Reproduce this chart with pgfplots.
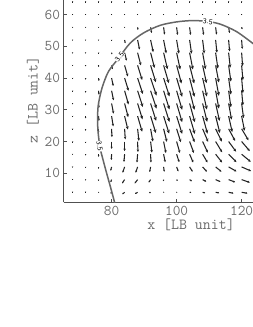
\documentclass[border=0pt]{standalone}
\usepackage{pgfplots}
\pgfplotsset{compat=1.18}
\usepackage{pgfplotstable}
\usetikzlibrary{arrows.meta}
\definecolor{txt}{HTML}{6A6A6A}
\definecolor{spine}{HTML}{505050}
\definecolor{arr}{HTML}{222222}
\definecolor{cont}{HTML}{666666}
\pgfplotstableread{
x y u v
68 64 0 -0.1
72 64 0 -0.1
76 64 0 -0.1
80 64 0 -0.1
84 64 0 -0.1
88 64 0 -0.1
92 64 0 -0.1
96 64 0 -0.1
100 64 0 -0.1
104 64 0 -0.1
108 64 0 -0.1
112 64 0 -0.1
116 64 0 -0.1
120 64 0 -0.1
68 60 0 -0.15
72 60 0 -0.15
76 60 0 -0.15
80 60 0 -0.15
84 60 0 -0.15
88 60 0 -0.15
92 60 0 -0.15
96 60 0 -0.15
100 60 0 -0.15
104 60 0 -0.15
108 60 0 -0.15
112 60 0 -0.15
116 60 0 -0.15
120 60 0 -0.15
68 56 0 -0.2
72 56 0 -0.2
76 56 0 -0.2
80 56 0 -0.2
84 56 0 -0.2
88 56 0.1 -0.8
92 56 0.3 -1.8
96 56 0.3 -2.3
100 56 0.3 -2.4
104 56 0.3 -2.4
108 56 0.3 -2.4
112 56 0.3 -2.3
116 56 0.3 -1.8
120 56 0.2 -0.6
68 52 0 -0.2
72 52 0 -0.2
76 52 0 -0.2
80 52 0 -0.3
84 52 0.2 -1.0
88 52 0.6 -3.0
92 52 0.8 -3.8
96 52 0.8 -4.2
100 52 0.7 -4.3
104 52 0.6 -4.3
108 52 0.5 -4.2
112 52 0.4 -4.0
116 52 0.3 -3.6
120 52 0.2 -2.8
68 48 0 -0.2
72 48 0 -0.2
76 48 0 -0.3
80 48 0.1 -0.5
84 48 0.6 -2.5
88 48 1.0 -4.0
92 48 1.2 -4.8
96 48 1.2 -5.2
100 48 1.1 -5.3
104 48 1.0 -5.3
108 48 0.9 -5.2
112 48 0.7 -5.0
116 48 0.5 -4.7
120 48 0.3 -4.2
68 44 0 -0.2
72 44 0 -0.3
76 44 0 -0.5
80 44 0.3 -1.2
84 44 1.0 -3.5
88 44 1.4 -4.6
92 44 1.6 -5.3
96 44 1.6 -5.6
100 44 1.5 -5.7
104 44 1.4 -5.7
108 44 1.2 -5.6
112 44 1.0 -5.4
116 44 0.7 -5.1
120 44 0.4 -4.6
68 40 0 -0.3
72 40 0 -0.5
76 40 0.1 -0.9
80 40 0.5 -2.5
84 40 1.2 -4.0
88 40 1.6 -5.0
92 40 1.8 -5.5
96 40 1.8 -5.8
100 40 1.7 -5.9
104 40 1.5 -5.9
108 40 1.3 -5.8
112 40 1.0 -5.6
116 40 0.7 -5.2
120 40 0.4 -4.7
68 36 0 -0.3
72 36 0 -0.6
76 36 0.1 -1.2
80 36 0.6 -3.0
84 36 1.2 -4.3
88 36 1.6 -5.1
92 36 1.8 -5.6
96 36 1.8 -5.9
100 36 1.7 -6.0
104 36 1.5 -6.0
108 36 1.3 -5.9
112 36 1.0 -5.6
116 36 0.7 -5.2
120 36 0.4 -4.6
68 32 0 -0.3
72 32 0 -0.6
76 32 0.1 -1.4
80 32 0.6 -3.2
84 32 1.1 -4.3
88 32 1.5 -5.0
92 32 1.7 -5.5
96 32 1.8 -5.8
100 32 1.7 -5.9
104 32 1.6 -5.9
108 32 1.4 -5.8
112 32 1.2 -5.5
116 32 0.9 -5.1
120 32 0.6 -4.6
68 28 0 -0.3
72 28 0 -0.7
76 28 0.1 -1.5
80 28 0.5 -3.2
84 28 1.0 -4.2
88 28 1.4 -4.9
92 28 1.6 -5.3
96 28 1.7 -5.5
100 28 1.7 -5.6
104 28 1.6 -5.6
108 28 1.5 -5.5
112 28 1.3 -5.3
116 28 1.1 -5.0
120 28 0.9 -4.6
68 24 0 -0.3
72 24 0 -0.6
76 24 0 -1.3
80 24 0.1 -2.6
84 24 0.2 -3.3
88 24 0.4 -3.8
92 24 0.7 -4.0
96 24 1.0 -4.1
100 24 1.3 -4.2
104 24 1.5 -4.2
108 24 1.7 -4.1
112 24 1.9 -4.0
116 24 2.0 -3.8
120 24 2.1 -3.6
68 20 0 -0.3
72 20 0 -0.5
76 20 0 -1.1
80 20 0 -2.3
84 20 0 -3.0
88 20 0.1 -3.3
92 20 0.4 -3.5
96 20 0.7 -3.6
100 20 1.0 -3.6
104 20 1.3 -3.6
108 20 1.6 -3.5
112 20 2.0 -3.4
116 20 2.3 -3.2
120 20 2.5 -3.0
68 16 0 -0.2
72 16 0 -0.4
76 16 0 -0.8
80 16 -0.1 -1.8
84 16 -0.2 -2.4
88 16 -0.2 -2.6
92 16 0.1 -2.6
96 16 0.5 -2.5
100 16 0.8 -2.5
104 16 1.1 -2.6
108 16 1.5 -2.6
112 16 2.0 -2.6
116 16 2.4 -2.5
120 16 2.8 -2.4
68 12 0 -0.2
72 12 0 -0.3
76 12 0 -0.6
80 12 -0.3 -1.2
84 12 -0.6 -1.8
88 12 -0.6 -1.8
92 12 -0.3 -1.6
96 12 0.2 -1.5
100 12 0.5 -1.4
104 12 0.9 -1.5
108 12 1.3 -1.5
112 12 1.8 -1.5
116 12 2.4 -1.4
120 12 2.9 -1.3
68 8 0 -0.1
72 8 0 -0.2
76 8 -0.1 -0.4
80 8 -0.3 -0.8
84 8 -0.8 -1.2
88 8 -0.9 -1.2
92 8 -0.6 -0.9
96 8 -0.1 -0.5
100 8 0.3 -0.4
104 8 0.7 -0.5
108 8 1.1 -0.6
112 8 1.5 -0.7
116 8 2.0 -0.8
120 8 2.5 -0.9
68 4 0 -0.1
72 4 0 -0.1
76 4 -0.1 -0.2
80 4 -0.3 -0.4
84 4 -0.7 -0.6
88 4 -0.8 -0.5
92 4 -0.5 -0.2
96 4 -0.1 -0.1
100 4 0.2 -0.1
104 4 0.5 -0.1
108 4 0.8 -0.2
112 4 1.1 -0.2
116 4 1.5 -0.3
120 4 1.8 -0.3
}\field
\begin{document}
\begin{tikzpicture}
\useasboundingbox (0,0) rectangle (253bp,327bp);
\begin{axis}[
  at={(63.5bp,124.7bp)}, anchor=south west,
  scale only axis, width=189.5bp, height=202.3bp,
  xmin=65.2, xmax=123.5, ymin=0.85, ymax=64.6,
  axis x line*=bottom, axis y line*=left,
  axis line style={spine, line width=1.1bp},
  xtick={80,100,120}, ytick={10,20,30,40,50,60},
  tick align=inside, major tick length=3bp,
  tick style={spine, line width=0.6bp},
  ticklabel style={font=\fontsize{15}{16}\selectfont\ttfamily, text=txt},
  /pgf/number format/assume math mode=true,
  xlabel={x [LB unit]}, ylabel={z [LB unit]},
  label style={font=\fontsize{15.5}{16}\selectfont\ttfamily, text=txt},
  xlabel style={at={(axis description cs:0.673,-0.11)}, anchor=center},
  ylabel style={at={(axis description cs:-0.161,0.506)}, anchor=center, rotate=0},
  clip=true,
]
\addplot[arr, line width=1.05bp,
  point meta={sqrt((\thisrow{u})^2+(\thisrow{v})^2)},
  quiver={u=\thisrow{u}, v=\thisrow{v},
    every arrow/.append style={-{Stealth[length={1.0bp+0.003bp*\pgfplotspointmetatransformed}, width={1.2bp+0.0024bp*\pgfplotspointmetatransformed}]}}},
  ] table[x=x,y=y] {\field};
\addplot[cont, line width=1.5bp, smooth, tension=0.5] coordinates {
(81.0,0.5) (79.7,5.5) (78.5,9.9) (77.3,14.5) (76.4,18.3) (75.8,23.5) (75.7,27.5)
(75.9,31.5) (77.0,36.7) (79.0,42.0) (82.1,46.2) (85.7,51.0) (89.8,54.2)
(94.9,56.6) (100,57.7) (104.6,58.1) (109,57.9) (113.4,57.0) (118.5,54.6) (123.6,50.8)};
\node[fill=white, inner sep=0.2bp, rotate=-6, font=\fontsize{7.5}{7.5}\selectfont\sffamily] at (axis cs:109.6,57.8) {3.5};
\node[fill=white, inner sep=0.2bp, rotate=52, font=\fontsize{7.5}{7.5}\selectfont\sffamily] at (axis cs:82.4,46.7) {3.5};
\node[fill=white, inner sep=0.2bp, rotate=-80, font=\fontsize{7.5}{7.5}\selectfont\sffamily] at (axis cs:76.3,18.5) {3.5};
\end{axis}
\end{tikzpicture}
\end{document}
